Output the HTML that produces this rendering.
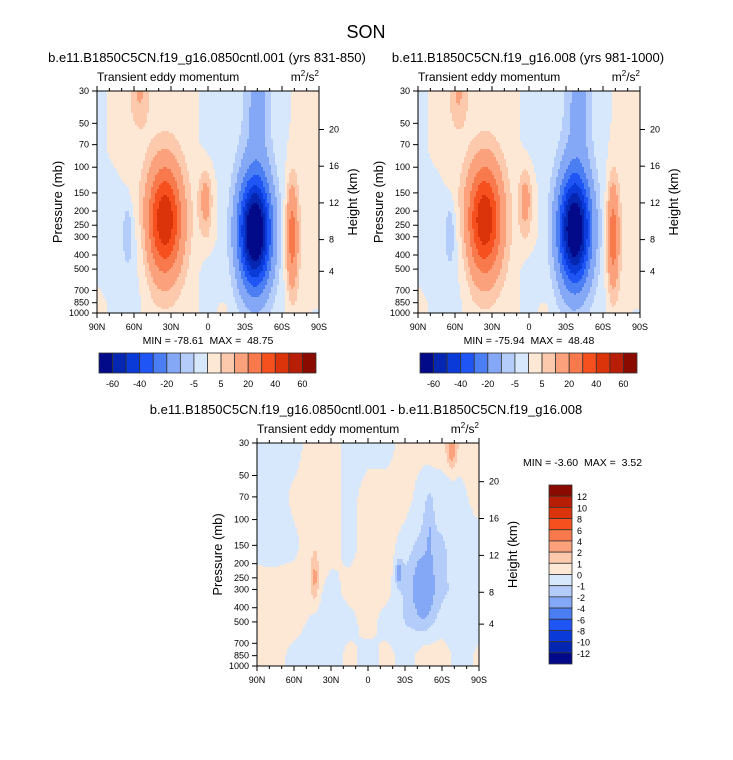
<!DOCTYPE html>
<html><head><meta charset="utf-8">
<style>
html,body{margin:0;padding:0;background:#fff;}
svg{display:block;font-family:"Liberation Sans",Arial,sans-serif;}
text{white-space:pre;}
</style></head>
<body>
<svg id="chart" width="733" height="760" viewBox="0 0 733 760" xmlns="http://www.w3.org/2000/svg" xml:space="preserve">
<rect width="733" height="760" fill="#fff"/>
<text x="366" y="38" font-size="18" text-anchor="middle">SON</text>
</svg>
<script>
// ---------- data ----------
const latGrid = [90,75,60,45,30,15,0,-15,-30,-45,-60,-75,-90];
const presGrid = [30,70,150,300,500,850,1000];
const pressureTicks = [30,50,70,100,150,200,250,300,400,500,700,850,1000];
const heightTicks = [4,8,12,16,20];
const latTickLabels = ["90N","60N","30N","0","30S","60S","90S"];
const levelsFull = [-60,-50,-40,-30,-20,-10,-5,0,5,10,20,30,40,50,60];
const levelsFullLabels = ["-60","-40","-20","-5","5","20","40","60"];
const levelsDiff = [-12,-10,-8,-6,-4,-2,-1,0,1,2,4,6,8,10,12];
const levelsDiffLabels = ["12","10","8","6","4","2","1","0","-1","-2","-4","-6","-8","-10","-12"];
const palette = ["#020a8a","#0526b0","#0a3ad8","#1f55f5","#4a7ef2","#84a8f5","#b4ccfa","#d8e8fc","#fde8d6","#fcc9ad","#fba27c","#f87a4c","#f5501e","#dc340a","#b81e05","#8a0a00"];

const bg1 = [
 [-2,2,3,2,2,2,-2,-2,-4,-4,-2,2,2],
 [-2,2,2,2,2,2,-2,-2,-4,-4,-2,2,2],
 [-2,-2,2,2,2,2,2,-2,-3,-3,-2,2,2],
 [-2,-2,-2,2,2,2,2,-2,-2,-2,-2,2,2],
 [-2,-2,-2,2,2,2,-2,-2,-2,-2,-2,2,2],
 [2,-2,-2,2,2,2,-2,-2,-2,-2,-2,2,2],
 [2,-2,-2,2,2,2,-2,-2,-2,-2,-2,2,-2]
];
const blobLat1 = [35,-38,2,-68,65,55,-12,-40];
const blobP1 = [230,280,170,300,280,32,950,35];
const blobAmp1 = [47,-77,12,25,-8,8,4,-10];
const blobWLat1 = [13.5,12.5,5,5,4,7,5,8];
const blobWP1 = [0.85,0.85,0.5,0.85,0.5,0.5,0.15,1.0];

const bg2 = bg1;
const blobLat2 = [36,-37,3,-68,64,57,-12,-40];
const blobP2 = [230,270,170,300,280,32,950,35];
const blobAmp2 = [47,-74,12,26,-8,8,4,-10];
const blobWLat2 = [13.5,12.5,5,5,4,7,5,8];
const blobWP2 = [0.85,0.85,0.5,0.85,0.5,0.5,0.15,1.0];

const bg3 = [
 [-0.6,-0.6,-0.6,0.6,0.6,-0.6,-0.6,-0.6,0.6,0.6,0.6,0.6,0.6],
 [-0.6,-0.6,0.3,0.6,0.6,-0.5,0.6,0.6,0.6,-0.8,-0.6,-0.4,0.6],
 [-0.5,-0.6,-0.3,0.6,0.6,-0.5,0.6,0.6,-0.6,-1.2,-1.1,-0.6,-0.6],
 [0.6,0.6,0.6,0.6,-0.5,0.5,0.6,0.5,-1.2,-1.5,-1.2,-0.6,-0.6],
 [0.6,0.6,0.6,-0.3,-0.6,-0.5,0.6,-0.6,-1.0,-1.3,-0.6,-0.6,-0.6],
 [0.6,0.6,-0.5,-0.6,-0.6,0.4,-0.6,0.5,-0.6,0.6,0.6,-0.6,0.3],
 [0.6,0.6,-0.5,-0.6,-0.6,0.4,-0.6,0.5,-0.6,0.6,0.6,-0.6,0.3]
];
const blobLat3 = [-45,-25,43,-68,-50];
const blobP3 = [290,230,250,33,120];
const blobAmp3 = [-2.5,-2.3,1.8,2.5,-1.0];
const blobWLat3 = [8,3,3,4,3];
const blobWP3 = [0.45,0.2,0.35,0.3,0.6];

// ---------- drawing ----------
const svg = document.getElementById('chart');
const NS = "http://www.w3.org/2000/svg";
function mk(tag, attrs, parent){
  const e = document.createElementNS(NS, tag);
  for (const k in attrs) e.setAttribute(k, attrs[k]);
  (parent||svg).appendChild(e);
  return e;
}
function txt(s, x, y, size, anchor, parent){
  const t = mk('text',{x:x,y:y,'font-size':size,'text-anchor':anchor||'start'},parent);
  t.textContent = s;
  return t;
}
function bgVal(bg, lat, p){
  const lp = Math.log(p);
  let r = 0;
  while (r < presGrid.length-2 && Math.log(presGrid[r+1]) < lp) r++;
  const fr = Math.min(1,Math.max(0,(lp-Math.log(presGrid[r]))/(Math.log(presGrid[r+1])-Math.log(presGrid[r]))));
  const fc = (90-lat)/15;
  let c = Math.min(latGrid.length-2, Math.floor(fc));
  const fcc = fc - c;
  const v = (rr,cc)=>bg[rr][cc];
  const a = v(r,c)*(1-fcc)+v(r,c+1)*fcc;
  const b = v(r+1,c)*(1-fcc)+v(r+1,c+1)*fcc;
  return a*(1-fr)+b*fr;
}
function field(lat,p,bg,bl,bp,ba,bwl,bwp){
  let v = bgVal(bg,lat,p);
  const lp = Math.log(p);
  for (let i=0;i<bl.length;i++){
    const dl=(lat-bl[i])/bwl[i], dp=(lp-Math.log(bp[i]))/bwp[i];
    v += ba[i]*Math.exp(-dl*dl-dp*dp);
  }
  return v;
}
function colorIndex(v, levels){
  let i=0; while(i<levels.length && v>=levels[i]) i++; return i;
}
function drawPanel(opt){
  const g = mk('g',{});
  
  
  const X0=opt.x, Y0=opt.y, W=opt.w, H=opt.h;
  const xOf = lat => X0 + (90-lat)/180*W;
  const yOf = p => Y0 + Math.log(p/30)/Math.log(1000/30)*H;
  const pOf = y => 30*Math.exp((y-Y0)/H*Math.log(1000/30));
  const latOf = x => 90 - (x-X0)/W*180;
  const fg = mk('g',{'shape-rendering':'crispEdges'},g);
  
  
  const step=2;
  for (let y=Y0; y<Y0+H; y+=step){
    const p = pOf(y+step/2);
    let runStart=X0, runCol=null;
    for (let x=X0; x<=X0+W; x+=step){
      let col=null;
      if (x<X0+W){
        const v = field(latOf(x+step/2),p,opt.bg,opt.bl,opt.bp,opt.ba,opt.bwl,opt.bwp);
        col = palette[colorIndex(v,opt.levels)];
      }
      if (col!==runCol){
        if (runCol!==null){
          mk('rect',{x:runStart,y:y,width:Math.min(x,X0+W)-runStart,height:Math.min(step,Y0+H-y),fill:runCol},fg);
        }
        runStart=x; runCol=col;
      }
    }
  }
  mk('rect',{x:X0,y:Y0,width:W,height:H,fill:'none',stroke:'#000','stroke-width':1},g);
  for (let lat=90; lat>=-90; lat-=10){
    const x=xOf(lat), major = lat%30===0;
    mk('line',{x1:x,y1:Y0+H,x2:x,y2:Y0+H+(major?5:3),stroke:'#000'},g);
    mk('line',{x1:x,y1:Y0,x2:x,y2:Y0-(major?5:3),stroke:'#000'},g);
  }
  latTickLabels.forEach((s,i)=>{ txt(s, xOf(90-30*i), Y0+H+17, 9, 'middle', g); });
  pressureTicks.forEach(p=>{
    const y=yOf(p);
    mk('line',{x1:X0,y1:y,x2:X0-5,y2:y,stroke:'#000'},g);
    txt(String(p), X0-8, y+3, 9, 'end', g);
  });
  heightTicks.forEach(z=>{
    const p = 1000*Math.exp(-z/6.9);
    const y = yOf(p)+ (z===4? -5 : 0);
    mk('line',{x1:X0+W,y1:y,x2:X0+W+5,y2:y,stroke:'#000'},g);
    txt(String(z), X0+W+10, y+3, 9, 'start', g);
  });
  const pl = txt('Pressure (mb)', 0,0,13,'middle',g);
  pl.setAttribute('transform',`translate(${X0-35},${Y0+H/2}) rotate(-90)`);
  
  const hl = txt('Height (km)', 0,0,13,'middle',g);
  hl.setAttribute('transform',`translate(${X0+W+38},${Y0+H/2}) rotate(-90)`);
  
  const t = txt(opt.title, opt.titleX, Y0-29, 13, 'middle', g);
  
  txt('Transient eddy momentum', X0, Y0-10, 12, 'start', g);
  const u = mk('text',{x:X0+W,y:Y0-10,'font-size':12,'text-anchor':'end'},g);
  u.innerHTML = 'm<tspan dy="-5" font-size="8">2</tspan><tspan dy="5">/s</tspan><tspan dy="-5" font-size="8">2</tspan>';
  const mm = txt(opt.minmax, opt.mmX, opt.mmY, 10.5, opt.mmAnchor, g);
  
}
function hColorbar(x,y,w,h,labels,name){
  const g = mk('g',{});
  
  
  const bw = w/palette.length;
  palette.forEach((c,i)=>{ mk('rect',{x:x+i*bw,y:y,width:bw,height:h,fill:c,stroke:'#333','stroke-width':0.8},g); });
  labels.forEach((s,i)=>{ txt(s, x+(2*i+1)*bw, y+h+14, 9, 'middle', g); });
}
function vColorbar(x,y,w,h,labels,name){
  const g = mk('g',{});
  
  
  const bh = h/palette.length;
  palette.slice().reverse().forEach((c,i)=>{ mk('rect',{x:x,y:y+i*bh,width:w,height:bh,fill:c,stroke:'#333','stroke-width':0.8},g); });
  labels.forEach((s,i)=>{ txt(s, x+w+5, y+(i+1)*bh+4, 9, 'start', g); });
}

drawPanel({name:'panel-control',x:97,y:91,w:222,h:222,levels:levelsFull,bg:bg1,bl:blobLat1,bp:blobP1,ba:blobAmp1,bwl:blobWLat1,bwp:blobWP1,
  title:'b.e11.B1850C5CN.f19_g16.0850cntl.001 (yrs 831-850)',titleX:207,minmax:'MIN = -78.61  MAX =  48.75',mmX:208,mmY:344,mmAnchor:'middle'});
hColorbar(99,353,217,20,levelsFullLabels,'colorbar-control');
drawPanel({name:'panel-experiment',x:418,y:91,w:222,h:222,levels:levelsFull,bg:bg2,bl:blobLat2,bp:blobP2,ba:blobAmp2,bwl:blobWLat2,bwp:blobWP2,
  title:'b.e11.B1850C5CN.f19_g16.008 (yrs 981-1000)',titleX:528,minmax:'MIN = -75.94  MAX =  48.48',mmX:529,mmY:344,mmAnchor:'middle'});
hColorbar(420,353,217,20,levelsFullLabels,'colorbar-experiment');
drawPanel({name:'panel-difference',x:257,y:443,w:222,h:223,levels:levelsDiff,bg:bg3,bl:blobLat3,bp:blobP3,ba:blobAmp3,bwl:blobWLat3,bwp:blobWP3,
  title:'b.e11.B1850C5CN.f19_g16.0850cntl.001 - b.e11.B1850C5CN.f19_g16.008',titleX:366,minmax:'MIN = -3.60  MAX =  3.52',mmX:523,mmY:466,mmAnchor:'start'});
vColorbar(549,485,23,179,levelsDiffLabels,'colorbar-difference');
</script>
</body></html>
